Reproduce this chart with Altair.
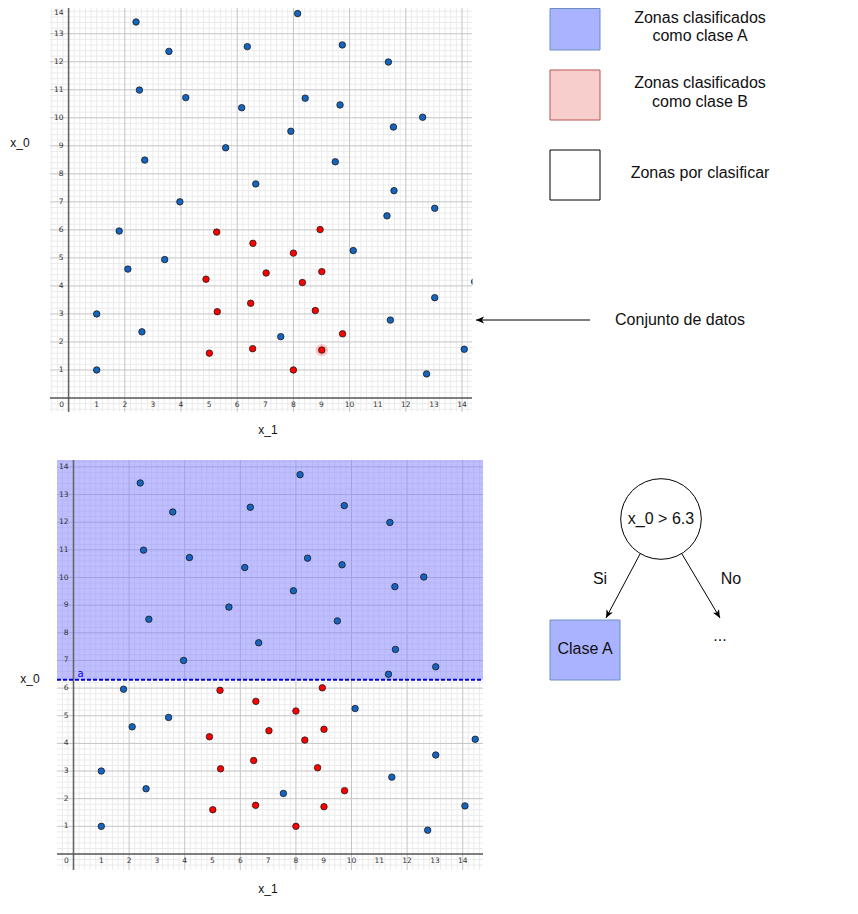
import altair as alt
import numpy as np
import pandas as pd

# ---------------- data ----------------
blue_x1 = [2.40, 3.57, 6.36, 8.15, 9.74, 11.38, 2.52, 4.17, 6.16, 8.42, 9.66, 12.60,
           11.56, 7.91, 5.59, 2.71, 9.49, 6.66, 11.58, 3.96, 13.03, 11.33, 1.80, 10.13,
           2.11, 3.42, 1.00, 1.00, 2.61, 7.55, 11.45, 13.03, 12.74, 14.08, 14.45]
blue_x0 = [13.42, 12.37, 12.54, 13.72, 12.60, 11.99, 10.99, 10.72, 10.36, 10.70, 10.46, 10.02,
           9.67, 9.52, 8.93, 8.49, 8.43, 7.64, 7.40, 7.00, 6.77, 6.50, 5.96, 5.26,
           4.60, 4.94, 3.00, 1.00, 2.36, 2.19, 2.78, 3.58, 0.86, 1.74, 4.15]
red_x1 = [5.27, 8.95, 6.56, 8.00, 7.03, 9.01, 4.89, 8.32, 6.48, 5.29, 8.78, 9.75, 5.01, 6.55, 9.01, 8.00]
red_x0 = [5.92, 6.01, 5.52, 5.17, 4.46, 4.51, 4.24, 4.12, 3.38, 3.08, 3.12, 2.29, 1.60, 1.76, 1.71, 1.00]
highlight_x1 = [9.01]
highlight_x0 = [1.71]
threshold_x0 = [6.3]
tick_labels = list(range(1, 15))

legend_text = ["Zonas clasificados", "como clase A", "Zonas clasificados", "como clase B",
               "Zonas por clasificar"]
tree_text = ["x_0 > 6.3", "Si", "No", "Clase A", "..."]
pointer_text = ["Conjunto de datos"]

BLUE = "#1565c0"
RED = "#ff0000"
TICK_FONT = "DejaVu Sans"
FONT = "Liberation Sans"


def panel(xdom, xrng, ydom, yrng, shade=False, highlight=False, top_label_dy=0):
    xs = alt.Scale(domain=xdom, range=xrng, nice=False, zero=False)
    ys = alt.Scale(domain=ydom, range=yrng, nice=False, zero=False)

    def X(f):
        return alt.X(f, type="quantitative", scale=xs, axis=None)

    def Y(f):
        return alt.Y(f, type="quantitative", scale=ys, axis=None)

    def mults(lo, hi, step):
        k0 = int(np.ceil(lo / step - 1e-9))
        k1 = int(np.floor(hi / step + 1e-9))
        return [round(k * step, 4) for k in range(k0, k1 + 1)]

    vx = mults(xdom[0], xdom[1], 0.2)
    hy = mults(ydom[0], ydom[1], 0.2)
    v_major = [v for v in vx if abs(v - round(v)) < 1e-6 and round(v) % 2 == 0 and round(v) != 0]
    v_minor = [v for v in vx if v not in v_major and abs(v) > 1e-6]
    h_major = [v for v in hy if abs(v - round(v)) < 1e-6 and round(v) != 0]
    h_minor = [v for v in hy if v not in h_major and abs(v) > 1e-6]

    def vlines(vals):
        return pd.DataFrame({"x": vals, "y0": ydom[0], "y1": ydom[1]})

    def hlines(vals):
        return pd.DataFrame({"y": vals, "x0": xdom[0], "x1": xdom[1]})

    layers = []
    layers.append(alt.Chart(vlines(v_minor)).mark_rule(color="#ebebeb", strokeWidth=1)
                  .encode(x=X("x"), y=Y("y0"), y2="y1"))
    layers.append(alt.Chart(hlines(h_minor)).mark_rule(color="#ebebeb", strokeWidth=1)
                  .encode(y=Y("y"), x=X("x0"), x2="x1"))
    layers.append(alt.Chart(vlines(v_major)).mark_rule(color="#c4c4c4", strokeWidth=1)
                  .encode(x=X("x"), y=Y("y0"), y2="y1"))
    layers.append(alt.Chart(hlines(h_major)).mark_rule(color="#c4c4c4", strokeWidth=1)
                  .encode(y=Y("y"), x=X("x0"), x2="x1"))

    if shade:
        sh = pd.DataFrame({"x0": [xdom[0]], "x1": [xdom[1]], "y0": threshold_x0, "y1": [ydom[1]]})
        layers.append(alt.Chart(sh).mark_rect(fill="#8080ff", opacity=0.5)
                      .encode(x=X("x0"), x2="x1", y=Y("y0"), y2="y1"))

    # axes
    layers.append(alt.Chart(vlines([0])).mark_rule(color="#666666", strokeWidth=1.6)
                  .encode(x=X("x"), y=Y("y0"), y2="y1"))
    layers.append(alt.Chart(hlines([0])).mark_rule(color="#555555", strokeWidth=1.4)
                  .encode(y=Y("y"), x=X("x0"), x2="x1"))

    if shade:
        th = pd.DataFrame({"x0": [xdom[0]], "x1": [xdom[1]], "y0": threshold_x0, "xa": [0], "lab": ["a"]})
        layers.append(alt.Chart(th).mark_rule(color="#0000dd", strokeWidth=2, strokeDash=[4, 2])
                      .encode(x=X("x0"), x2="x1", y=Y("y0")))
        layers.append(alt.Chart(th).mark_text(color="#0000ff", fontSize=10, font=TICK_FONT,
                                              align="left", baseline="middle", dx=4, dy=-6)
                      .encode(x=X("xa"), y=Y("y0"), text="lab:N"))

    # tick labels
    xt = pd.DataFrame({"v": tick_labels, "z": 0, "t": [str(v) for v in tick_labels]})
    layers.append(alt.Chart(xt).mark_text(fontSize=7.5, font=TICK_FONT, color="#333333",
                                          align="center", baseline="middle", dy=7)
                  .encode(x=X("v"), y=Y("z"), text="t:N"))
    yt_main = xt[xt["v"] < max(tick_labels)]
    yt_last = xt[xt["v"] == max(tick_labels)]
    layers.append(alt.Chart(yt_main).mark_text(fontSize=7.5, font=TICK_FONT, color="#333333",
                                               align="right", baseline="middle", dx=-5)
                  .encode(x=X("z"), y=Y("v"), text="t:N"))
    layers.append(alt.Chart(yt_last).mark_text(fontSize=7.5, font=TICK_FONT, color="#333333",
                                               align="right", baseline="middle", dx=-5,
                                               dy=top_label_dy)
                  .encode(x=X("z"), y=Y("v"), text="t:N"))
    zt = pd.DataFrame({"z": [0], "t": ["0"]})
    layers.append(alt.Chart(zt).mark_text(fontSize=7.5, font=TICK_FONT, color="#333333",
                                          align="center", baseline="middle", dx=-7, dy=7)
                  .encode(x=X("z"), y=Y("z"), text="t:N"))

    # points
    if highlight:
        hl = pd.DataFrame({"x1": highlight_x1, "x0": highlight_x0})
        layers.append(alt.Chart(hl).mark_circle(size=150, color=RED, opacity=0.22)
                      .encode(x=X("x1"), y=Y("x0")))
    bl = pd.DataFrame({"x1": blue_x1, "x0": blue_x0})
    rd = pd.DataFrame({"x1": red_x1, "x0": red_x0})
    layers.append(alt.Chart(bl).mark_circle(size=42, color=BLUE, opacity=1, stroke="#1a1a1a",
                                            strokeWidth=0.8)
                  .encode(x=X("x1"), y=Y("x0")))
    layers.append(alt.Chart(rd).mark_circle(size=42, color=RED, opacity=1, stroke="#1a1a1a",
                                            strokeWidth=0.8)
                  .encode(x=X("x1"), y=Y("x0")))
    return alt.layer(*layers)


# canvas coordinates = page coordinates - 8 (body margin)
top_panel = panel([-0.662, 14.356], [42, 464], [-0.50, 14.204], [404, -8], highlight=True,
                  top_label_dy=7)
bottom_panel = panel([-0.594, 14.730], [49, 475], [-0.579, 14.250], [862, 452], shade=True)

# ---------------- diagram annotations (page coordinates) ----------------
PX = alt.Scale(domain=[0, 858], range=[-8, 850], nice=False, zero=False)
PY = alt.Scale(domain=[0, 914], range=[-8, 906], nice=False, zero=False)


def DX(f):
    return alt.X(f, type="quantitative", scale=PX, axis=None)


def DY(f):
    return alt.Y(f, type="quantitative", scale=PY, axis=None)


mask = pd.DataFrame({"x": [472.5], "x2": [486], "y": [262], "y2": [300]})
boxes = pd.DataFrame({
    "x": [550, 550, 550, 550], "x2": [600, 600, 600, 620],
    "y": [8.5, 70, 150, 620], "y2": [50, 120, 200, 680],
    "fill": ["#aab3ff", "#f8cecc", "#ffffff", "#aab3ff"],
    "stroke": ["#6c8ebf", "#b85450", "#000000", "#6c8ebf"],
})
node = pd.DataFrame({"x": [661], "y": [519]})
lines = pd.DataFrame({"x": [590, 640, 682], "y": [320, 554, 554],
                      "x2": [476, 606, 720], "y2": [320, 618, 618]})
heads = pd.DataFrame({"x": [476, 606, 720], "y": [320, 618, 618], "ang": [180, 117.6, 59.7]})
texts = pd.DataFrame({
    "x": [700, 700, 700, 700, 700, 680, 661, 600, 731, 585, 720],
    "y": [18, 36, 83, 102, 173, 320, 519, 579, 579, 649, 636],
    "t": legend_text + pointer_text + tree_text,
})
titles = pd.DataFrame({"x": [20, 268, 30, 268], "y": [143, 430, 679, 889],
                       "t": ["x_0", "x_1", "x_0", "x_1"]})

ARROW = "M0,0L-1.6,-0.7L-1.2,0L-1.6,0.7Z"

deco = alt.layer(
    alt.Chart(mask).mark_rect(fill="white", opacity=1)
    .encode(x=DX("x"), x2="x2", y=DY("y"), y2="y2"),
    alt.Chart(boxes).mark_rect(strokeWidth=1, opacity=1)
    .encode(x=DX("x"), x2="x2", y=DY("y"), y2="y2",
            fill=alt.Fill("fill:N", scale=None), stroke=alt.Stroke("stroke:N", scale=None)),
    alt.Chart(node).mark_point(shape="circle", size=6500, filled=True, fill="white",
                               stroke="black", strokeWidth=1, opacity=1)
    .encode(x=DX("x"), y=DY("y")),
    alt.Chart(lines).mark_rule(color="black", strokeWidth=1)
    .encode(x=DX("x"), y=DY("y"), x2="x2", y2="y2"),
    alt.Chart(heads).mark_point(shape=ARROW, size=100, filled=True, color="black", opacity=1,
                                strokeWidth=0)
    .encode(x=DX("x"), y=DY("y"), angle=alt.Angle("ang:Q", scale=None)),
    alt.Chart(texts).mark_text(font=FONT, fontSize=16, color="#111111", align="center",
                               baseline="middle")
    .encode(x=DX("x"), y=DY("y"), text="t:N"),
    alt.Chart(titles).mark_text(font=FONT, fontSize=12, color="#111111", align="center",
                                baseline="middle")
    .encode(x=DX("x"), y=DY("y"), text="t:N"),
)

chart = (
    alt.layer(top_panel, bottom_panel, deco)
    .resolve_scale(x="independent", y="independent")
    .properties(width=830, height=890, autosize=alt.AutoSizeParams(type="none"), padding=0,
                background="white")
    .configure_view(stroke=None)
)

chart.save("out.html", embed_options={"renderer": "svg", "actions": False})
